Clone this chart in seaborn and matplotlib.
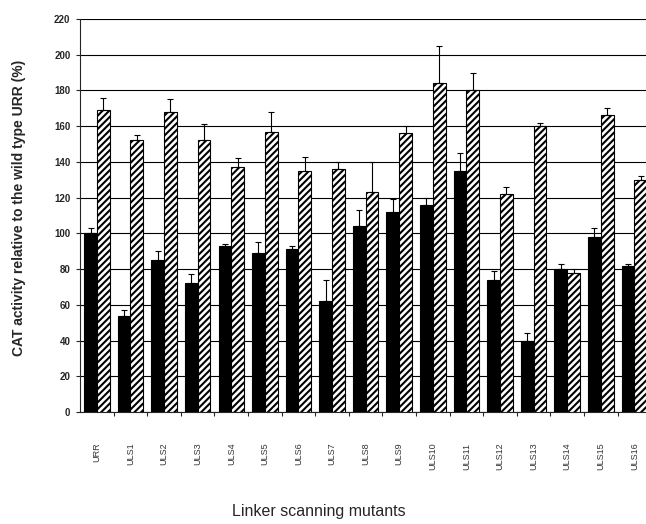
import pandas as pd
import seaborn as sns
import matplotlib
matplotlib.use("Agg")
import matplotlib.pyplot as plt

# data
mutants = ["URR", "ULS1", "ULS2", "ULS3", "ULS4", "ULS5", "ULS6", "ULS7", "ULS8",
           "ULS9", "ULS10", "ULS11", "ULS12", "ULS13", "ULS14", "ULS15", "ULS16"]
cat_black = [100, 54, 85, 72, 93, 89, 91, 62, 104, 112, 116, 135, 74, 40, 80, 98, 82]
err_black = [3, 3, 5, 5, 1, 6, 2, 12, 9, 7, 4, 10, 5, 4, 3, 5, 1]
cat_hatched = [169, 152, 168, 152, 137, 157, 135, 136, 123, 156, 184, 180, 122, 160, 78, 166, 130]
err_hatched = [7, 3, 7, 9, 5, 11, 8, 4, 17, 4, 21, 10, 4, 2, 2, 4, 2]
yticks = list(range(0, 221, 20))

df = pd.DataFrame({
    "mutant": mutants * 2,
    "activity": cat_black + cat_hatched,
    "series": ["black"] * len(mutants) + ["hatched"] * len(mutants),
})

sns.set_style("white")
plt.rcParams['font.family'] = ['Liberation Sans', 'DejaVu Sans']
plt.rcParams['hatch.linewidth'] = 1.5

fig = plt.figure(figsize=(6.46, 5.24), dpi=100)
# axes runs a little past the right edge like the scanned figure
ax = fig.add_axes([0.124, 0.2137, 0.884, 0.75])

sns.barplot(data=df, x="mutant", y="activity", hue="series", order=mutants,
            palette={"black": "black", "hatched": "white"}, width=0.76,
            errorbar=None, legend=False, edgecolor="black", linewidth=0.8,
            zorder=3, ax=ax)

for bar in ax.containers[1]:
    bar.set_hatch("/////")

# error bars, upper side only
for cont, errs in zip(ax.containers, [err_black, err_hatched]):
    xs = [b.get_x() + b.get_width() / 2 for b in cont]
    ys = [b.get_height() for b in cont]
    ax.errorbar(xs, ys, yerr=[[0] * len(errs), errs], fmt="none", ecolor="black",
                elinewidth=0.8, capsize=2, capthick=0.8, zorder=4)

ax.set_ylim(0, 220)
ax.set_yticks(yticks)
ax.set_xlim(-0.5, len(mutants) - 0.5)
ax.yaxis.grid(True, color="black", linewidth=0.8, zorder=0)
ax.set_axisbelow(True)

for s in ["top", "right"]:
    ax.spines[s].set_visible(False)
ax.spines["left"].set_linewidth(0.8)
ax.spines["bottom"].set_linewidth(0.8)

ax.tick_params(axis="y", direction="out", length=3, width=0.8, labelsize=7, pad=4, left=True)
for lab in ax.get_yticklabels():
    lab.set_fontweight("bold")

# tick marks between groups, labels at group centres
ax.set_xticks([i + 0.5 for i in range(len(mutants))], minor=True)
ax.tick_params(axis="x", which="minor", direction="out", length=3, width=0.8, bottom=True)
ax.tick_params(axis="x", which="major", length=0, labelsize=6.5, pad=22, labelcolor="#333333")
ax.set_xticks(range(len(mutants)))
ax.set_xticklabels(mutants, rotation=90, va="top", ha="center")

ax.set_xlabel("Linker scanning mutants", fontsize=11.5)
ax.xaxis.set_label_coords(0.418, -0.235)
ax.set_ylabel("CAT activity relative to the wild type URR (%)", fontsize=10, fontweight="bold")
ax.yaxis.set_label_coords(-0.095, 0.52)

plt.savefig("out.png", dpi=100)
